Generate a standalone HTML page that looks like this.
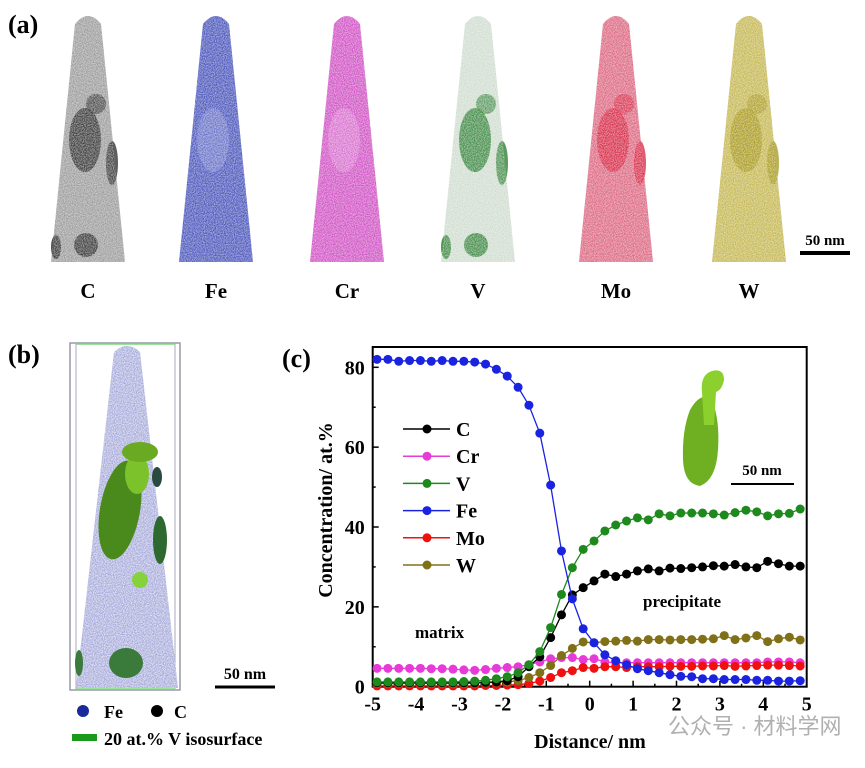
<!DOCTYPE html>
<html><head><meta charset="utf-8">
<style>
body{margin:0;background:#fff;width:865px;height:763px;overflow:hidden;font-family:"Liberation Serif",serif;}
svg text{font-family:"Liberation Serif",serif;font-weight:bold;}
</style></head>
<body>
<svg id="fig" width="865" height="763" viewBox="0 0 865 763" xmlns="http://www.w3.org/2000/svg">
<defs>
<filter id="noise" x="0" y="0" width="100%" height="100%">
<feTurbulence type="fractalNoise" baseFrequency="0.9" numOctaves="1" seed="3"/>
<feColorMatrix type="matrix" values="0 0 0 0 1  0 0 0 0 1  0 0 0 0 1  0 0 0 -2.2 1.6"/>
<feComposite in2="SourceGraphic" operator="in"/>
</filter>
</defs>
<text x="8" y="33" font-size="26">(a)</text>
<g id="tips"></g>
<line x1="800" y1="253" x2="850" y2="253" stroke="#000" stroke-width="4"/>
<text x="825" y="245" font-size="15" text-anchor="middle">50 nm</text>

<text x="8" y="363" font-size="26">(b)</text>
<g>
<rect x="70" y="343" width="110" height="347" fill="none" stroke="#99a" stroke-width="1.5"/>
<line x1="76" y1="344" x2="175" y2="344" stroke="#7d7" stroke-width="1.5"/>
<line x1="76" y1="689" x2="175" y2="689" stroke="#7d7" stroke-width="1.5"/>
<line x1="76" y1="344" x2="76" y2="689" stroke="#aab" stroke-width="1"/>
<line x1="175" y1="344" x2="175" y2="689" stroke="#aab" stroke-width="1"/>
<path d="M114,352 Q127,340 140,352 L178,688 L76,688 Z" fill="#a0a4d8"/>
<path d="M114,352 Q127,340 140,352 L178,688 L76,688 Z" fill="#d0d0f0" filter="url(#noise)" opacity="0.7"/>
<ellipse cx="120" cy="510" rx="20" ry="50" fill="#4a8a1c" transform="rotate(10 120 510)"/>
<ellipse cx="137" cy="474" rx="12" ry="20" fill="#7cc22a"/>
<ellipse cx="140" cy="452" rx="18" ry="10" fill="#6aaa22"/>
<ellipse cx="160" cy="540" rx="7" ry="24" fill="#2e6a30"/>
<ellipse cx="157" cy="477" rx="5" ry="10" fill="#2a4a40"/>
<circle cx="140" cy="580" r="8" fill="#86d23a"/>
<ellipse cx="126" cy="663" rx="17" ry="15" fill="#3a7a3a"/>
<ellipse cx="79" cy="663" rx="4" ry="13" fill="#3a7a3a"/>
</g>
<line x1="215" y1="687" x2="275" y2="687" stroke="#000" stroke-width="3"/>
<text x="245" y="679" font-size="16" text-anchor="middle">50 nm</text>
<g>
<circle cx="83" cy="711" r="6" fill="#1a2a9a"/>
<text x="104" y="718" font-size="18">Fe</text>
<circle cx="157" cy="711" r="6" fill="#000"/>
<text x="174" y="718" font-size="18">C</text>
<rect x="72" y="734" width="25" height="7" fill="#1a9a1a"/>
<text x="104" y="745" font-size="18">20 at.% V isosurface</text>
</g>

<text x="282" y="367" font-size="26">(c)</text>
<g id="chart"></g>
<text x="668" y="734" font-size="22" fill="#b0b0b0" style="font-family:'Liberation Sans','Noto Sans CJK SC',sans-serif;font-weight:normal">公众号 · 材料学网</text>
</svg>
<script>
const categories = [-4.9,-4.65,-4.4,-4.15,-3.9,-3.65,-3.4,-3.15,-2.9,-2.65,-2.4,-2.15,-1.9,-1.65,-1.4,-1.15,-0.9,-0.65,-0.4,-0.15,0.1,0.35,0.6,0.85,1.1,1.35,1.6,1.85,2.1,2.35,2.6,2.85,3.1,3.35,3.6,3.85,4.1,4.35,4.6,4.85];
const feValues = [82,82,81.5,81.7,81.7,81.5,81.7,81.5,81.5,81.3,80.8,79.5,77.8,75,70.5,63.5,50.5,34,22,14.5,11,8,6.5,5.5,4.5,4,3.5,3,2.6,2.5,2,2,1.8,1.8,1.8,1.6,1.6,1.4,1.4,1.5];
const vValues = [1.2,1.2,1.2,1.2,1.2,1.2,1.2,1.2,1.3,1.4,1.6,2,2.5,3.5,5.5,8.8,14.8,23.1,29.8,34.4,36.5,39,40.5,41.5,42.3,41.8,43.3,42.8,43.5,43.5,43.5,43.3,43,43.6,44.2,43.8,42.8,43.3,43.4,44.5];
const cValues = [1,1,1,1,1,1,1,1,1,1,1.1,1.2,1.5,2.5,5,7.5,12.3,18,23,24.8,26.5,28.2,27.6,28.2,29,29.5,29,29.7,29.6,29.8,30,30.3,30.2,30.6,30,29.8,31.4,30.8,30.2,30.2];
const crValues = [4.6,4.6,4.6,4.6,4.6,4.5,4.5,4.4,4.2,4.1,4.3,4.6,4.8,5,5.5,6.2,7,7.3,7.3,6.8,7,6.2,6,6,6,6,6,6,6,6,6,6,6,6,6,6,6.2,6.2,6.2,6];
const moValues = [0.2,0.2,0.2,0.2,0.2,0.2,0.2,0.2,0.2,0.2,0.3,0.3,0.4,0.5,0.8,1.4,2.3,3.5,4,4.8,4.6,5,5,4.8,5,5,5,5.1,5.1,5.1,5.2,5.2,5.3,5.1,5.2,5.3,5.4,5.4,5.3,5.2];
const wValues = [0.8,0.8,0.8,0.8,0.8,0.8,0.8,0.8,0.8,0.9,1,1.1,1.2,1.5,2.3,3.5,5.3,7.8,9.6,11.2,11,11.3,11.4,11.6,11.4,11.8,11.8,11.7,11.8,11.8,11.9,12,12.8,11.8,12.2,12.8,11.3,12,12.4,11.7];
const seriesNames = ["C","Cr","V","Fe","Mo","W"];
const xTicks = [-5,-4,-3,-2,-1,0,1,2,3,4,5];
const yTicks = [0,20,40,60,80];
const yMinor = [10,30,50,70];

const NS="http://www.w3.org/2000/svg";
function mk(tag,attrs,parent){const e=document.createElementNS(NS,tag);for(const k in attrs)e.setAttribute(k,attrs[k]);parent.appendChild(e);return e;}

const tipDefs=[
 {n:"C",cx:88,base:"#9a9a9a",blob:"#1a1a1a"},
 {n:"Fe",cx:216,base:"#4a55bb",blob:"#8890d8"},
 {n:"Cr",cx:347,base:"#d050c4",blob:"#e090d8"},
 {n:"V",cx:478,base:"#cfdccf",blob:"#137019"},
 {n:"Mo",cx:616,base:"#dc6680",blob:"#d41834"},
 {n:"W",cx:749,base:"#c4b650",blob:"#a09010"}];
const tips=document.getElementById('tips');
tipDefs.forEach(t=>{
 const g=mk('g',{},tips);
 
 
 const d=`M${t.cx-13},24 Q${t.cx},8 ${t.cx+13},24 L${t.cx+37},262 L${t.cx-37},262 Z`;
 mk('path',{d:d,fill:t.base},g);
 if(t.n!=="Fe"&&t.n!=="Cr"){
  mk('ellipse',{cx:t.cx-3,cy:140,rx:16,ry:32,fill:t.blob,opacity:0.75},g);
  mk('ellipse',{cx:t.cx+24,cy:163,rx:6,ry:22,fill:t.blob,opacity:0.7},g);
  mk('ellipse',{cx:t.cx+8,cy:104,rx:10,ry:10,fill:t.blob,opacity:0.6},g);
  if(t.n==="C"||t.n==="V"){
   mk('ellipse',{cx:t.cx-2,cy:245,rx:12,ry:12,fill:t.blob,opacity:0.75},g);
   mk('ellipse',{cx:t.cx-32,cy:247,rx:5,ry:12,fill:t.blob,opacity:0.75},g);
  }
 } else {
  mk('ellipse',{cx:t.cx-3,cy:140,rx:16,ry:32,fill:t.blob,opacity:0.5},g);
 }
 mk('path',{d:d,fill:'#fff',filter:'url(#noise)',opacity:0.5},g);
 const lab=mk('text',{x:t.cx,y:298,'font-size':21,'text-anchor':'middle'},tips);
 lab.textContent=t.n;
 
 
});

const chart=document.getElementById('chart');
const X0=372.7,X1=806.7,Y0=686.7,Ytop=347;
const yPer=(686.7-367.3)/80;
const xs=v=>X0+(v+5)/10*(X1-X0);
const ys=v=>Y0-v*yPer;
const frame=mk('rect',{x:X0,y:Ytop,width:X1-X0,height:Y0-Ytop,fill:'none',stroke:'#000','stroke-width':2},chart);


xTicks.forEach(t=>{
 mk('line',{x1:xs(t),y1:Y0,x2:xs(t),y2:Y0-6,stroke:'#000','stroke-width':1.5},chart);
 if(t<5) mk('line',{x1:xs(t+0.5),y1:Y0,x2:xs(t+0.5),y2:Y0-3,stroke:'#000','stroke-width':1.5},chart);
 const l=mk('text',{x:xs(t),y:Y0+24,'font-size':20,'text-anchor':'middle'},chart);
 l.textContent=t;
 
 
});
yTicks.forEach(t=>{
 mk('line',{x1:X0,y1:ys(t),x2:X0+6,y2:ys(t),stroke:'#000','stroke-width':1.5},chart);
 const l=mk('text',{x:X0-8,y:ys(t)+7,'font-size':20,'text-anchor':'end'},chart);
 l.textContent=t;
 
 
});
yMinor.forEach(t=>mk('line',{x1:X0,y1:ys(t),x2:X0+3,y2:ys(t),stroke:'#000','stroke-width':1.5},chart));
const xt=mk('text',{x:590,y:748,'font-size':20,'text-anchor':'middle'},chart);
xt.textContent="Distance/ nm";


const yt=mk('text',{x:0,y:0,'font-size':20,'text-anchor':'middle',transform:'translate(332 510) rotate(-90)'},chart);
yt.textContent="Concentration/ at.%";



const seriesData={C:cValues,Cr:crValues,V:vValues,Fe:feValues,Mo:moValues,W:wValues};
const colors={C:'#000',Cr:'#e83ad8',V:'#1e8a1e',Fe:'#1a24e0',Mo:'#f01010',W:'#807018'};
const order=["Cr","Mo","W","C","V","Fe"];
order.forEach(n=>{
 const vals=seriesData[n];
 const g=mk('g',{},chart);
 
 
 const d=vals.map((v,i)=>(i?'L':'M')+xs(categories[i]).toFixed(1)+' '+ys(v).toFixed(1)).join(' ');
 mk('path',{d:d,fill:'none',stroke:colors[n],'stroke-width':1.3},g);
 vals.forEach((v,i)=>{
  const c=mk('circle',{cx:xs(categories[i]),cy:ys(v),r:4.5,fill:colors[n]},g);
  
  
 });
});
const lg=mk('g',{},chart);


seriesNames.forEach((n,i)=>{
 const y=429+i*27.2;
 mk('line',{x1:403,y1:y,x2:450,y2:y,stroke:colors[n],'stroke-width':1.5},lg);
 mk('circle',{cx:427,cy:y,r:4.5,fill:colors[n]},lg);
 const t=mk('text',{x:456,y:y+7,'font-size':20},lg);
 t.textContent=n;
 
 
});
const m=mk('text',{x:415,y:638,'font-size':17},chart);m.textContent="matrix";


const p=mk('text',{x:643,y:607,'font-size':17},chart);p.textContent="precipitate";


const ins=mk('g',{},chart);


mk('rect',{x:656,y:364,width:62,height:134,fill:'#fff'},ins);
mk('path',{d:'M690,410 Q700,392 712,398 L712,400 Q720,420 718,450 Q716,480 700,486 Q684,484 683,460 Q682,430 690,410 Z',fill:'#6fb022'},ins);
mk('path',{d:'M702,392 Q700,375 712,371 Q724,368 724,380 Q722,390 716,392 L714,425 L704,425 Z',fill:'#8cd02e'},ins);
mk('line',{x1:731,y1:484,x2:794,y2:484,stroke:'#000','stroke-width':2},ins);
const sl=mk('text',{x:762,y:475,'font-size':15,'text-anchor':'middle'},ins);sl.textContent="50 nm";
</script>
</body></html>
